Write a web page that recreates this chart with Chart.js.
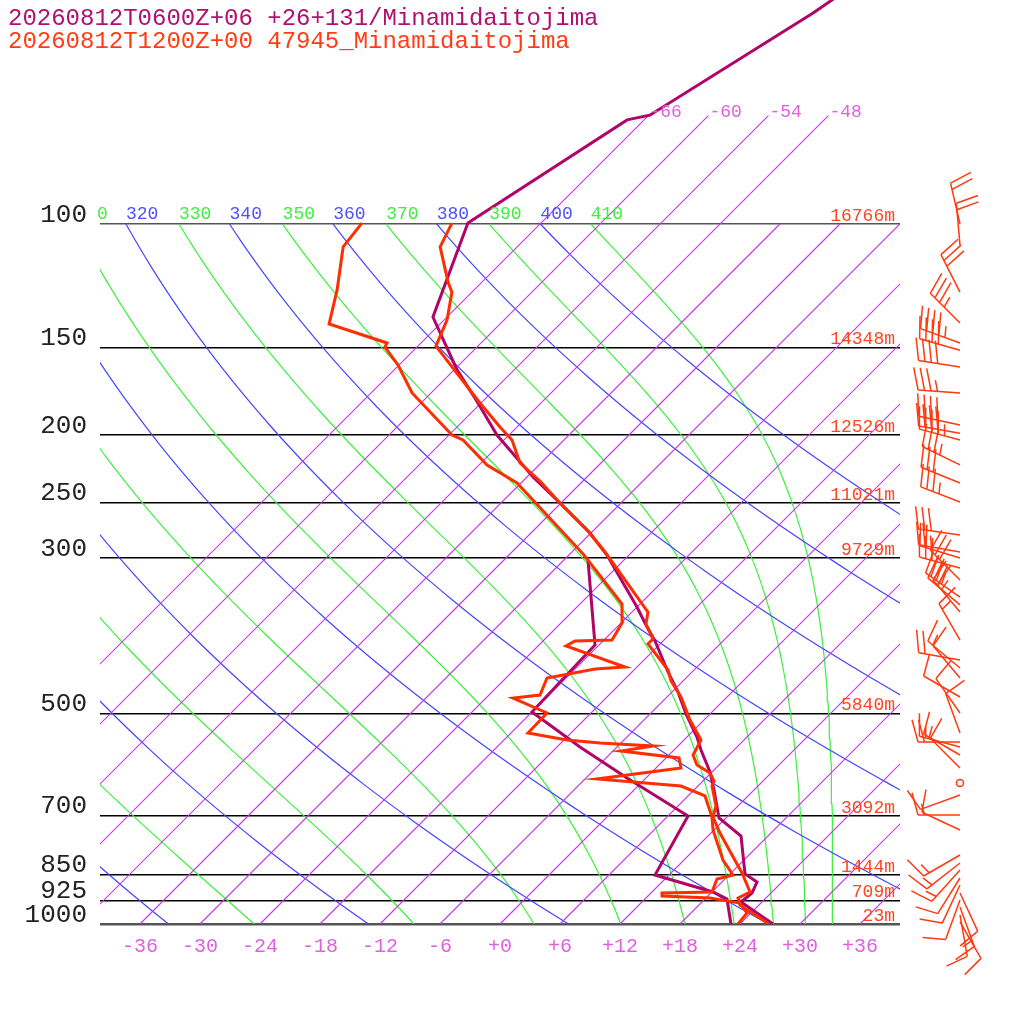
<!DOCTYPE html>
<html>
<head>
<meta charset="utf-8">
<script src="https://cdn.jsdelivr.net/npm/chart.js@4.4.1/dist/chart.umd.min.js"></script>
<style>
  html, body { margin: 0; padding: 0; background: #fff; }
  canvas { display: block; }
</style>
</head>
<body>
<canvas id="skewt" width="1024" height="1024"></canvas>
<script>
// pressure levels on the left, station heights on the right
const pressureTicks = [100, 150, 200, 250, 300, 500, 700, 850, 925, 1000];
const heightLabels = ['16766m', '14348m', '12526m', '11021m', '9729m', '5840m', '3092m', '1444m', '709m', '23m'];

// background lines
const isotherms = [-66, -60, -54, -48, -42, -36, -30, -24, -18, -12, -6, 0, 6, 12, 18, 24, 30, 36];
const isothermTicks = [-36, -30, -24, -18, -12, -6, 0, 6, 12, 18, 24, 30, 36];
const longIsotherms = [-66, -60, -54, -48];
const dryAdiabats = [240, 260, 280, 300, 320, 340, 360, 380, 400];
const moistAdiabats = [250, 270, 290, 310, 330, 350, 370, 390, 410];

// model profile, 0600Z +06
const modelP = [1000, 930.2, 903.1, 870.9, 848.3, 748.6, 705.6, 643.5, 606.5, 564.2, 540.6, 501.2, 466.2, 436.5, 394.2, 374.0, 352.5, 297.1, 276.3, 250.4, 229.8, 200.2, 180.2, 161.6, 135.8, 99.7, 71.0, 69.9, 50.0, 44.8];
const modelT = [27.3, 21.9, 22.1, 21.5, 19.5, 15.3, 11.3, 8.0, 5.8, 2.7, 1.0, -2.4, -5.4, -8.4, -12.8, -15.3, -18.0, -26.2, -30.1, -36.1, -41.4, -49.2, -54.3, -59.7, -67.4, -73.3, -67.7, -65.9, -59.8, -58.3];
const modelTdP = [1000, 921.1, 900.1, 851.1, 700.9, 618.6, 558.7, 497.9, 448.2, 399.4, 302.0];
const modelTd = [23.1, 20.2, 18.1, 10.6, 8.0, -1.9, -9.7, -18.0, -18.2, -18.4, -27.6];

// observed sounding 47945, 1200Z
const obsP = [1000, 939.4, 918.0, 900.1, 845.5, 796.9, 741.3, 703.3, 678.3, 635.1, 624.7, 608.5, 592.7, 573.5, 545.9, 511.2, 473.9, 449.6, 433.6, 398.1, 391.6, 372.8, 358.4, 294.1, 273.6, 250.4, 232.9, 219.5, 203.5, 195.0, 180.2, 149.4, 137.1, 125.1, 121.0, 107.8, 99.7];
const obsT = [26.9, 22.1, 21.2, 21.8, 19.1, 16.3, 12.9, 10.6, 9.8, 7.4, 7.1, 5.9, 3.8, 2.4, 1.7, -1.4, -4.6, -7.2, -8.6, -13.2, -13.2, -15.4, -16.4, -26.7, -30.7, -36.1, -40.3, -44.1, -47.2, -49.7, -54.1, -64.2, -65.7, -68.0, -69.4, -73.7, -74.9];
const obsTdP = [1000, 964.5, 933.3, 918.0, 912.0, 903.1, 900.1, 862.4, 851.1, 810.2, 734.0, 703.3, 656.3, 635.1, 620.7, 598.6, 579.2, 566.0, 556.8, 551.3, 545.9, 533.5, 499.5, 475.5, 470.8, 445.2, 432.2, 429.4, 400.7, 394.2, 392.9, 371.5, 349.0, 297.1, 234.4, 220.9, 203.5, 200.2, 174.3, 159.0, 149.9, 147.9, 138.9, 124.2, 107.8, 99.7];
const obsTd = [23.8, 23.6, 21.9, 18.4, 13.4, 13.1, 18.0, 17.2, 18.4, 15.9, 11.9, 10.5, 7.7, 4.3, -4.8, 2.5, 1.3, -5.2, -2.5, -8.1, -11.7, -16.3, -16.4, -21.3, -18.9, -19.9, -16.0, -13.2, -21.2, -20.8, -17.2, -17.9, -19.8, -28.5, -42.4, -47.2, -52.1, -53.7, -61.9, -66.1, -69.2, -69.4, -77.1, -79.7, -83.4, -83.9];

// observed winds (direction in degrees, speed in knots)
const windP = [100, 107.2, 125.1, 138.5, 147.9, 151.5, 160.1, 174.3, 193.7, 199.0, 203.5, 220.9, 234.4, 249.5, 278.1, 294.1, 300.0, 310.0, 322.5, 341.1, 350.1, 358.4, 392.9, 419.6, 430.8, 445.2, 473.9, 499.5, 533.5, 549.5, 558.7, 573.5, 598.6, 628.9, 654.2, 698.6, 734.0, 796.9, 818.2, 837.5, 859.6, 879.6, 903.1, 924.1, 945.6, 970.8, 993.4];
const windDir = [347, 355, 333, 315, 290, 286, 279, 274, 282, 280, 285, 296, 292, 291, 278, 280, 287, 285, 315, 305, 310, 320, 330, 280, 310, 320, 300, 325, 340, 270, 285, 300, 315, 0, 250, 270, 295, 240, 232, 222, 212, 205, 155, 200, 160, 170, 150];
const windSpd = [20, 20, 30, 35, 45, 40, 40, 35, 40, 40, 45, 35, 30, 35, 30, 25, 25, 25, 30, 35, 30, 25, 15, 20, 15, 10, 10, 10, 10, 20, 15, 15, 10, 0, 10, 15, 10, 15, 15, 15, 10, 10, 10, 10, 15, 10, 10];

const MONO = '"Liberation Mono", "DejaVu Sans Mono", monospace';
const PURPLE = '#b00468';
const RED = '#ff2e00';
const SKEW = 30.4;   // x units per ln(1000/p), gives 45 degree isotherms
const P_TOP = 1000 * Math.exp(-924 / 304);

function sx(t, p) { return t + SKEW * Math.log(1000 / p); }
function profile(ps, ts) { return ps.map((p, i) => ({ x: sx(ts[i], p), y: p })); }

// pressures used to trace the curved adiabats
const curveP = [];
for (let p = 1000; p > 100; p *= 0.97) curveP.push(p);
curveP.push(100);

function thetaE(tk, p) {
  const tc = tk - 273.15;
  const es = 6.112 * Math.exp(17.67 * tc / (tc + 243.5));
  const r = 0.622 * es / (p - es);
  const th = tk * Math.pow(1000 / p, 0.2854 * (1 - 0.28 * r));
  return th * Math.exp((3.376 / tk - 0.00254) * r * 1000 * (1 + 0.81 * r));
}
function moistT(te, p) {
  let lo = 150, hi = 315;
  for (let i = 0; i < 50; i++) {
    const mid = (lo + hi) / 2;
    if (thetaE(mid, p) > te) hi = mid; else lo = mid;
  }
  return (lo + hi) / 2 - 273.15;
}
function dryT(th, p) { return th * Math.pow(p / 1000, 0.2857) - 273.15; }

const datasets = [];
function addLine(data, color, width, order) {
  datasets.push({ data, showLine: true, borderColor: color, borderWidth: width,
    pointRadius: 0, fill: false, order });
}

addLine(profile(obsP, obsT), RED, 3, 0);
addLine(profile(obsTdP, obsTd), RED, 3, 1);
addLine(profile(modelP, modelT), PURPLE, 3, 2);
addLine(profile(modelTdP, modelTd), PURPLE, 3, 3);

isotherms.forEach(t => {
  const top = longIsotherms.includes(t) ? 70 : 100;
  addLine([{ x: sx(t, 1000), y: 1000 }, { x: sx(t, top), y: top }], '#c23ce0', 1.2, 20);
});
dryAdiabats.forEach(th => addLine(curveP.map(p => ({ x: sx(dryT(th, p), p), y: p })), '#4444ff', 1.2, 21));
moistAdiabats.forEach(te => addLine(curveP.map(p => ({ x: sx(moistT(te, p), p), y: p })), '#3cf03c', 1.2, 22));

function drawBarb(ctx, x0, y0, dir, spd) {
  if (spd < 2.5) {
    ctx.beginPath(); ctx.arc(x0, y0, 3.5, 0, Math.PI * 2); ctx.stroke();
    return;
  }
  const a = dir * Math.PI / 180;
  const ux = Math.sin(a), uy = -Math.cos(a);
  const nx = -uy, ny = ux;
  const tilt = 15 * Math.PI / 180;
  const bx = nx * Math.cos(tilt) + ux * Math.sin(tilt);
  const by = ny * Math.cos(tilt) + uy * Math.sin(tilt);
  const L = 42, full = 23, gap = 6.5;
  const tx = x0 + ux * L, ty = y0 + uy * L;
  ctx.beginPath();
  ctx.moveTo(x0, y0); ctx.lineTo(tx, ty);
  let s = Math.round(spd / 5) * 5, pos = 0;
  while (s >= 10) {
    const px = tx - ux * pos, py = ty - uy * pos;
    ctx.moveTo(px, py); ctx.lineTo(px + bx * full, py + by * full);
    pos += gap; s -= 10;
  }
  if (s >= 5) {
    if (pos === 0) pos = gap;
    const px = tx - ux * pos, py = ty - uy * pos;
    ctx.moveTo(px, py); ctx.lineTo(px + bx * full / 2, py + by * full / 2);
  }
  ctx.stroke();
}

const overlay = {
  id: 'overlay',
  afterDraw(chart) {
    const { ctx, scales: { x, y } } = chart;
    ctx.save();

    ctx.font = '24px ' + MONO;
    ctx.textAlign = 'left';
    ctx.textBaseline = 'alphabetic';
    ctx.fillStyle = '#b0106f';
    ctx.fillText('20260812T0600Z+06 +26+131/Minamidaitojima', 8, 25);
    ctx.fillStyle = '#ff3c14';
    ctx.fillText('20260812T1200Z+00 47945_Minamidaitojima', 8, 48);

    // heights of the standard levels
    ctx.font = '18px ' + MONO;
    ctx.textAlign = 'right';
    ctx.fillStyle = '#ff4422';
    pressureTicks.forEach((p, i) => ctx.fillText(heightLabels[i], 895, y.getPixelForValue(p) - 3));

    // isotherm labels above 100 hPa
    ctx.textAlign = 'left';
    ctx.fillStyle = '#e060e0';
    longIsotherms.forEach(t => {
      ctx.fillText(String(t), x.getPixelForValue(sx(t, 70)) + 1, y.getPixelForValue(70) + 1);
    });

    // adiabat labels along 100 hPa
    ctx.save();
    ctx.beginPath(); ctx.rect(96, 150, 804, 100); ctx.clip();
    const yl = y.getPixelForValue(100) - 5;
    dryAdiabats.forEach(th => {
      const xp = x.getPixelForValue(sx(dryT(th, 100), 100));
      if (xp > 60 && xp < 880) { ctx.fillStyle = '#5050ff'; ctx.fillText(String(th), xp, yl); }
    });
    moistAdiabats.forEach(te => {
      const xp = x.getPixelForValue(sx(moistT(te, 100), 100));
      if (xp > 60 && xp < 880) { ctx.fillStyle = '#40ee40'; ctx.fillText(String(te), xp, yl); }
    });
    ctx.restore();

    // wind barbs
    ctx.strokeStyle = '#ff3a10';
    ctx.lineWidth = 1.5;
    windP.forEach((p, i) => drawBarb(ctx, 960, y.getPixelForValue(p), windDir[i], windSpd[i]));

    ctx.restore();
  }
};

new Chart(document.getElementById('skewt'), {
  type: 'scatter',
  data: { datasets },
  options: {
    responsive: false,
    animation: false,
    devicePixelRatio: 1,
    layout: { padding: { left: 0, right: 124, top: 0, bottom: 0 } },
    elements: { line: { tension: 0 } },
    plugins: { legend: { display: false }, tooltip: { enabled: false } },
    scales: {
      x: {
        type: 'linear', min: -40, max: 40,
        afterBuildTicks: s => { s.ticks = isothermTicks.map(v => ({ value: v })); },
        afterFit: s => { s.height = 100; s.paddingLeft = 0; s.paddingRight = 0; },
        grid: { display: false },
        border: { display: false },
        ticks: {
          autoSkip: false, maxRotation: 0, minRotation: 0, padding: 3,
          color: '#e060e0', font: { family: MONO, size: 20 },
          callback: v => (v >= 0 ? '+' : '') + v
        }
      },
      y: {
        type: 'logarithmic', reverse: true, min: P_TOP, max: 1000, bounds: 'data',
        afterBuildTicks: s => { s.ticks = pressureTicks.map(v => ({ value: v })); },
        afterFit: s => { s.width = 100; s.paddingTop = 0; s.paddingBottom = 0; },
        grid: {
          drawTicks: false,
          color: c => (c.tick && (c.tick.value === 100 || c.tick.value === 1000)) ? '#555' : '#000',
          lineWidth: c => (c.tick && c.tick.value === 1000) ? 2.5 : 1.4
        },
        border: { display: false },
        ticks: {
          autoSkip: false, padding: 13, labelOffset: -9,
          color: '#222', font: { family: MONO, size: 26 },
          callback: v => String(v)
        }
      }
    }
  },
  plugins: [overlay]
});
</script>
</body>
</html>
